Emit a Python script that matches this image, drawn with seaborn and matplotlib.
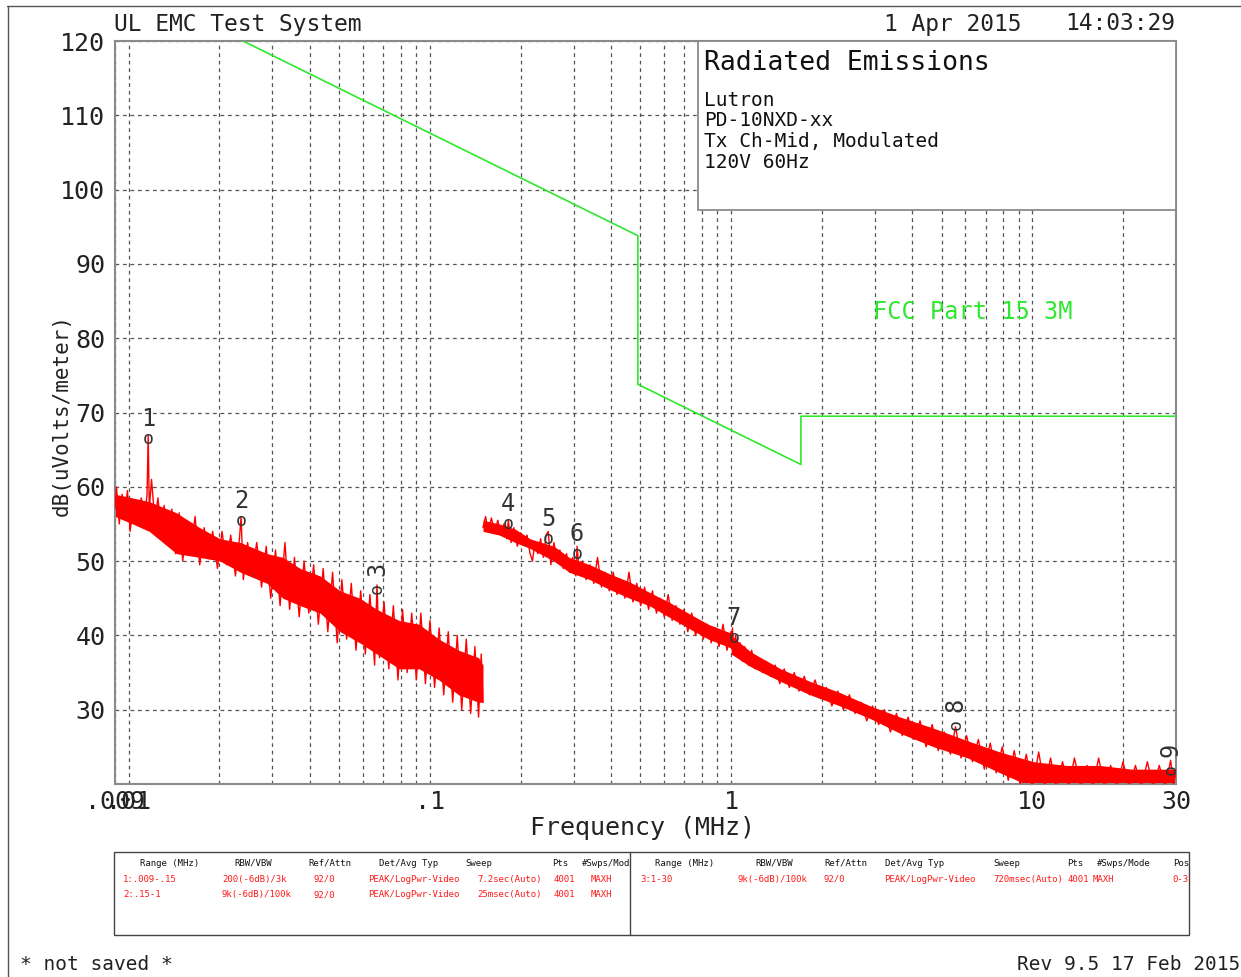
import numpy as np
import pandas as pd
import matplotlib
matplotlib.use("Agg")
import matplotlib.pyplot as plt
from matplotlib.patches import Rectangle
from matplotlib.lines import Line2D
import seaborn as sns

sns.set_style("white")
plt.rcParams['font.family'] = ['DejaVu Sans Mono', 'DejaVu Sans']

# ---------------- data ----------------
limit_freq = [0.009, 0.49, 0.49, 1.705, 1.705, 30.0]
limit_db = [128.5, 93.8, 73.8, 63.0, 69.5, 69.5]

# segment 1: 0.009 - 0.15 MHz
seg1_freq = [0.0090, 0.0091, 0.0093, 0.0095, 0.0097, 0.0099, 0.0101, 0.0104, 0.0107, 0.0110,
             0.0113, 0.0115, 0.0116, 0.0117, 0.0119, 0.0122, 0.0125, 0.0128, 0.0131, 0.0135,
             0.0139, 0.0143, 0.0147, 0.0151, 0.0156, 0.0161, 0.0166, 0.0172, 0.0178, 0.0184,
             0.0190, 0.0197, 0.0204, 0.0211, 0.0218, 0.0226, 0.0233, 0.0236, 0.0240, 0.0248,
             0.0257, 0.0266, 0.0276, 0.0286, 0.0296, 0.0307, 0.0318, 0.0330, 0.0342, 0.0355,
             0.0368, 0.0382, 0.0396, 0.0411, 0.0426, 0.0442, 0.0458, 0.0475, 0.0492, 0.0510,
             0.0529, 0.0548, 0.0568, 0.0589, 0.0610, 0.0632, 0.0655, 0.0667, 0.0680, 0.0704,
             0.0730, 0.0756, 0.0783, 0.0811, 0.0840, 0.0870, 0.0901, 0.0933, 0.0966, 0.1000,
             0.1036, 0.1073, 0.1111, 0.1150, 0.1190, 0.1232, 0.1275, 0.1320, 0.1365, 0.1410,
             0.1450, 0.1480, 0.1500]
seg1_db = [57.0, 60.0, 55.0, 59.0, 56.5, 59.5, 54.0, 58.0, 55.0, 58.5,
           56.0, 59.0, 67.0, 57.0, 61.0, 55.5, 58.5, 54.0, 57.5, 52.5,
           57.0, 51.0, 56.5, 50.0, 55.0, 51.5, 56.0, 49.5, 54.5, 50.5,
           54.0, 49.0, 54.0, 49.5, 53.5, 48.0, 53.0, 56.0, 47.5, 52.5,
           48.5, 52.5, 46.5, 52.0, 45.0, 51.5, 44.0, 52.5, 43.5, 50.5,
           42.5, 50.0, 43.0, 49.5, 41.5, 49.0, 40.5, 48.5, 39.0, 47.5,
           39.5, 47.0, 38.0, 46.0, 37.5, 45.5, 36.0, 46.8, 37.0, 44.5,
           35.5, 44.0, 34.0, 43.5, 35.0, 43.0, 34.0, 43.0, 33.5, 42.0,
           33.0, 41.0, 32.0, 40.5, 31.0, 40.0, 30.0, 39.5, 29.5, 38.5,
           29.0, 37.5, 31.0]
band1_freq = [0.009, 0.0103, 0.0117, 0.0144, 0.0172, 0.0201, 0.0235, 0.0288, 0.0325, 0.0371,
              0.0432, 0.0503, 0.0585, 0.0666, 0.0791, 0.092, 0.1071, 0.1246, 0.145, 0.15]
band1_lo = [56.0, 55.0, 54.0, 51.0, 50.5, 50.0, 48.5, 47.0, 45.0, 44.0,
            43.0, 40.5, 39.0, 37.5, 35.5, 35.5, 34.0, 32.0, 31.0, 31.0]
band1_hi = [59.0, 58.5, 58.0, 56.5, 54.5, 53.0, 52.5, 51.0, 50.5, 49.0,
            48.0, 46.0, 45.0, 43.5, 42.0, 41.5, 39.5, 38.0, 37.0, 36.0]

# segment 2: 0.15 - 1 MHz
seg2_freq = [0.150, 0.153, 0.156, 0.160, 0.164, 0.168, 0.172, 0.176, 0.180, 0.182,
             0.186, 0.190, 0.195, 0.200, 0.205, 0.210, 0.215, 0.219, 0.223, 0.228,
             0.233, 0.238, 0.243, 0.247, 0.252, 0.258, 0.264, 0.270, 0.277, 0.284,
             0.291, 0.298, 0.305, 0.308, 0.313, 0.321, 0.330, 0.340, 0.350, 0.360,
             0.371, 0.382, 0.394, 0.406, 0.418, 0.431, 0.444, 0.458, 0.472, 0.486,
             0.501, 0.516, 0.532, 0.548, 0.565, 0.582, 0.600, 0.618, 0.637, 0.656,
             0.676, 0.697, 0.718, 0.740, 0.762, 0.785, 0.809, 0.834, 0.859, 0.885,
             0.912, 0.940, 0.969, 0.998, 1.000]
seg2_db = [54.5, 56.0, 54.0, 55.8, 53.8, 55.5, 53.5, 55.0, 53.0, 55.5,
           52.5, 54.5, 52.0, 53.8, 52.5, 53.5, 51.0, 50.0, 52.5, 51.0,
           53.0, 50.5, 53.5, 54.0, 49.5, 52.5, 50.0, 51.5, 49.0, 51.0,
           48.5, 50.5, 48.0, 52.0, 48.5, 50.0, 47.5, 49.5, 47.0, 50.5,
           46.5, 48.5, 46.0, 48.5, 45.5, 47.5, 45.0, 48.5, 44.5, 47.0,
           44.0, 46.5, 43.5, 46.0, 43.0, 45.0, 42.5, 45.5, 42.0, 44.0,
           41.5, 43.5, 40.5, 43.0, 40.0, 42.0, 39.5, 41.5, 39.0, 41.0,
           38.5, 41.5, 38.0, 40.5, 38.5]
band2_freq = [0.15, 0.17, 0.192, 0.215, 0.258, 0.29, 0.34, 0.394, 0.46, 0.535, 0.62, 0.72, 0.84, 1.0]
band2_lo = [54.0, 53.5, 52.5, 51.7, 50.0, 48.5, 47.5, 46.2, 45.0, 44.0, 42.5, 41.0, 39.5, 38.3]
band2_hi = [55.5, 55.0, 54.3, 53.0, 52.0, 50.5, 49.5, 48.3, 47.2, 45.8, 44.5, 43.0, 41.5, 40.3]

# segment 3: 1 - 30 MHz
seg3_freq = [1.000, 1.010, 1.020, 1.035, 1.050, 1.07, 1.09, 1.11, 1.14, 1.17,
             1.20, 1.23, 1.27, 1.31, 1.35, 1.40, 1.45, 1.50, 1.56, 1.62,
             1.68, 1.75, 1.82, 1.90, 1.98, 2.07, 2.16, 2.26, 2.36, 2.47,
             2.58, 2.70, 2.82, 2.95, 3.09, 3.23, 3.38, 3.54, 3.70, 3.87,
             4.05, 4.24, 4.44, 4.65, 4.87, 5.10, 5.35, 5.56, 5.80, 6.05,
             6.33, 6.62, 6.93, 7.25, 7.59, 7.95, 8.32, 8.71, 9.12, 9.55,
             10.0, 10.5, 11.0, 11.5, 12.0, 12.6, 13.2, 13.8, 14.5, 15.2,
             15.9, 16.6, 17.4, 18.2, 19.1, 20.0, 21.0, 22.0, 23.0, 24.1,
             25.2, 26.4, 27.6, 28.8, 29.4, 30.0]
seg3_db = [39.0, 41.0, 38.0, 40.0, 37.5, 39.0, 36.5, 38.5, 36.0, 38.0,
           35.5, 37.0, 35.0, 36.5, 34.5, 36.0, 33.5, 35.5, 33.0, 35.0,
           32.5, 34.5, 32.0, 34.0, 31.5, 33.0, 30.5, 32.5, 30.0, 32.0,
           29.5, 31.0, 28.5, 30.5, 28.0, 30.0, 27.0, 29.5, 26.5, 29.0,
           26.0, 28.5, 25.0, 28.0, 24.5, 27.0, 24.0, 27.7, 23.5, 26.5,
           23.0, 26.0, 22.0, 25.5, 21.5, 25.0, 20.5, 24.5, 20.0, 24.0,
           19.5, 24.3, 19.5, 23.5, 19.5, 23.0, 19.5, 23.5, 19.5, 22.5,
           19.5, 23.5, 19.5, 22.5, 19.5, 23.0, 19.5, 22.5, 19.5, 23.0,
           19.5, 22.5, 19.5, 23.2, 20.0, 21.5]
band3_freq = [1.0, 1.16, 1.46, 1.83, 2.3, 2.9, 3.65, 4.71, 6.11, 7.82, 10.1, 13.0, 16.7, 21.4, 27.7, 30.0]
band3_lo = [37.5, 35.8, 33.8, 32.0, 30.5, 28.8, 26.8, 25.0, 23.5, 21.5, 19.5, 19.5, 19.5, 19.5, 19.5, 19.5]
band3_hi = [40.0, 37.8, 35.5, 33.8, 32.3, 30.5, 29.0, 27.5, 25.8, 24.3, 23.0, 22.5, 22.5, 22.0, 22.0, 22.0]

marker_ids = ['1', '2', '3', '4', '5', '6', '7', '8', '9']
marker_freq = [0.0116, 0.0236, 0.0667, 0.182, 0.247, 0.308, 1.02, 5.56, 28.8]
marker_db = [67.0, 56.0, 46.8, 55.5, 53.5, 51.5, 40.2, 28.5, 22.5]
marker_rot = [False, False, True, False, False, False, False, True, True]

ytick_vals = [20, 30, 40, 50, 60, 70, 80, 90, 100, 110, 120]
ytick_labels = ['', '30', '40', '50', '60', '70', '80', '90', '100', '110', '120']
xtick_vals = [0.009, 0.01, 0.1, 1, 10, 30]
xtick_labels = ['.009', '.01', '.1', '1', '10', '30']
xgrid_minor = [0.02, 0.03, 0.04, 0.05, 0.06, 0.07, 0.08, 0.09,
               0.2, 0.3, 0.4, 0.5, 0.6, 0.7, 0.8, 0.9,
               2, 3, 4, 5, 6, 7, 8, 9, 20]

box_lines = ['Lutron', 'PD-10NXD-xx', 'Tx Ch-Mid, Modulated', '120V 60Hz']

# ---------------- figure ----------------
W, H = 1241, 977
fig = plt.figure(figsize=(W / 100, H / 100), dpi=100)
fig.patch.set_facecolor('white')


def px(x, y):
    return (x / W, 1 - y / H)


ax_l, ax_r, ax_t, ax_b = 115, 1176, 41, 784
ax = fig.add_axes([ax_l / W, 1 - ax_b / H, (ax_r - ax_l) / W, (ax_b - ax_t) / H])
ax.set_xscale('log')
ax.set_xlim(0.009, 30)
ax.set_ylim(20, 120)

RED = '#ff0000'
GREEN = '#2ee82e'
GRID = '#555555'

# grid
ax.set_xticks(xtick_vals)
ax.set_xticklabels(xtick_labels)
ax.set_xticks(xgrid_minor, minor=True)
ax.set_yticks(ytick_vals)
ax.set_yticklabels(ytick_labels)
ax.grid(which='both', axis='x', color=GRID, linestyle=(0, (3, 3)), linewidth=0.9)
ax.grid(which='major', axis='y', color=GRID, linestyle=(0, (3, 3)), linewidth=0.9)
ax.set_axisbelow(True)
ax.tick_params(which='both', length=0)
ax.tick_params(axis='y', pad=7, labelsize=18, colors='#222222')
ax.tick_params(axis='x', pad=4, labelsize=18, colors='#222222')
for s in ax.spines.values():
    s.set_color('#8a8a8a')
    s.set_linewidth(1.5)

# red trace: dense bands + zigzag
for bf, blo, bhi in [(band1_freq, band1_lo, band1_hi),
                     (band2_freq, band2_lo, band2_hi),
                     (band3_freq, band3_lo, band3_hi)]:
    ax.fill_between(bf, blo, bhi, color=RED, linewidth=0, zorder=2)

for sf, sd in [(seg1_freq, seg1_db), (seg2_freq, seg2_db), (seg3_freq, seg3_db)]:
    df = pd.DataFrame({'f': sf, 'db': sd})
    sns.lineplot(data=df, x='f', y='db', ax=ax, sort=False, estimator=None,
                 color=RED, linewidth=1.0, zorder=3)

# limit line
df_lim = pd.DataFrame({'f': limit_freq, 'db': limit_db})
sns.lineplot(data=df_lim, x='f', y='db', ax=ax, sort=False, estimator=None,
             color=GREEN, linewidth=1.2, zorder=4)
ax.set_xlabel('')
ax.set_ylabel('')

# markers
for mid, mf, md, rot in zip(marker_ids, marker_freq, marker_db, marker_rot):
    r = 90 if rot else 0
    ax.annotate('o', (mf, md), xytext=(0, -3), textcoords='offset points',
                ha='center', va='center', fontsize=13, color='#333333', rotation=r, zorder=6)
    ax.annotate(mid, (mf, md), xytext=(0, 11.5), textcoords='offset points',
                ha='center', va='center', fontsize=17, color='#333333', rotation=r, zorder=6)

# info box
bx0 = (698 - ax_l) / (ax_r - ax_l)
by0 = (ax_b - 210) / (ax_b - ax_t)
ax.add_patch(Rectangle((bx0, by0), 1 - bx0, 1 - by0, transform=ax.transAxes,
                       facecolor='white', edgecolor='#8a8a8a', linewidth=1.3, zorder=8))
fig.text(*px(704, 63), 'Radiated Emissions', fontsize=19, va='center', ha='left', color='#111111')
for i, t in enumerate(box_lines):
    fig.text(*px(704, 100 + 21 * i), t, fontsize=14, va='center', ha='left', color='#111111')

fig.text(*px(973, 312), 'FCC Part 15 3M', fontsize=17, va='center', ha='center', color=GREEN)

# axis labels
fig.text(*px(62, 415), 'dB(uVolts/meter)', rotation=90, fontsize=15, va='center', ha='center',
         color='#222222')
fig.text(*px(642, 828), 'Frequency (MHz)', fontsize=18, va='center', ha='center', color='#222222')

# header
fig.text(*px(114, 24), 'UL EMC Test System', fontsize=16.5, va='center', ha='left', color='#222222')
fig.text(*px(1021, 24), '1 Apr 2015', fontsize=16.5, va='center', ha='right', color='#222222')
fig.text(*px(1175, 24), '14:03:29', fontsize=16.5, va='center', ha='right', color='#222222')

# outer border (top and left)
fig.add_artist(Line2D([7 / W, 1], [1 - 6 / H, 1 - 6 / H], transform=fig.transFigure,
                      color='#555555', linewidth=1.0))
fig.add_artist(Line2D([8 / W, 8 / W], [1 - 6 / H, 0], transform=fig.transFigure,
                      color='#555555', linewidth=1.0))

# bottom table
tx0, tx1, ty0, ty1 = 114, 1189, 852, 935
fig.add_artist(Rectangle(px(tx0, ty1), (tx1 - tx0) / W, (ty1 - ty0) / H, transform=fig.transFigure,
                         facecolor='none', edgecolor='#444444', linewidth=1.0))
fig.add_artist(Line2D([630 / W, 630 / W], [1 - ty0 / H, 1 - ty1 / H], transform=fig.transFigure,
                      color='#444444', linewidth=1.0))

hdr_left = [('Range (MHz)', 170), ('RBW/VBW', 253), ('Ref/Attn', 330), ('Det/Avg Typ', 409),
            ('Sweep', 479), ('Pts', 560), ('#Swps/Mod', 606)]
hdr_right = [('Range (MHz)', 685), ('RBW/VBW', 774), ('Ref/Attn', 846), ('Det/Avg Typ', 915),
             ('Sweep', 1007), ('Pts', 1075), ('#Swps/Mode', 1124), ('Pos', 1181)]
for t, x in hdr_left + hdr_right:
    fig.text(*px(x, 866), t, fontsize=6.5, va='baseline', ha='center', color='#111111')

row1 = [('1:.009-.15', 123), ('200(-6dB)/3k', 222), ('92/0', 314), ('PEAK/LogPwr-Video', 368),
        ('7.2sec(Auto)', 477), ('4001', 553), ('MAXH', 591)]
row2 = [('2:.15-1', 123), ('9k(-6dB)/100k', 222), ('92/0', 314), ('PEAK/LogPwr-Video', 368),
        ('25msec(Auto)', 477), ('4001', 553), ('MAXH', 591)]
row3 = [('3:1-30', 640), ('9k(-6dB)/100k', 738), ('92/0', 824), ('PEAK/LogPwr-Video', 884),
        ('720msec(Auto)', 993), ('4001', 1068), ('MAXH', 1093), ('0-3', 1172)]
for row, y in [(row1, 882), (row2, 897), (row3, 882)]:
    for t, x in row:
        fig.text(*px(x, y), t, fontsize=6.5, va='baseline', ha='left', color='#ff1a1a')

# footer
fig.text(*px(20, 965), '* not saved *', fontsize=14, va='center', ha='left', color='#222222')
fig.text(*px(1240, 965), 'Rev 9.5 17 Feb 2015', fontsize=14, va='center', ha='right', color='#222222')

fig.savefig('out.png', dpi=100, facecolor='white')
